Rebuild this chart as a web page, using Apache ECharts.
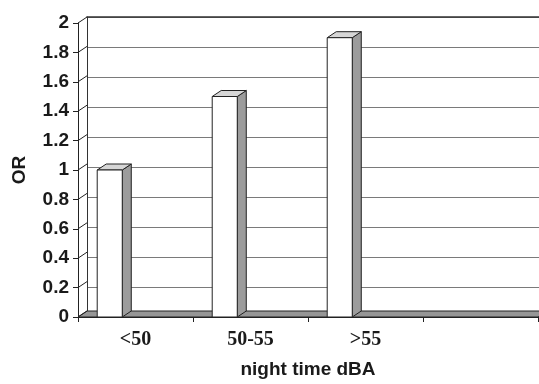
<!DOCTYPE html>
<html>
<head>
<meta charset="utf-8">
<script src="https://cdn.jsdelivr.net/npm/echarts@6/dist/echarts.min.js"></script>
<style>
html,body{margin:0;padding:0;background:#fff;}
#chart{width:539px;height:384px;}
</style>
</head>
<body>
<div id="chart"></div>
<script>
// ---- data ----
const categories = ['<50', '50-55', '>55', ''];
const orValues = [1.0, 1.5, 1.9, null];
const yTicks = [0, 0.2, 0.4, 0.6, 0.8, 1.0, 1.2, 1.4, 1.6, 1.8, 2.0];
const yMin = 0, yMax = 2, yStep = 0.2;
const xAxisName = 'night time dBA';
const yAxisName = 'OR';

// ---- 3D look ----
const DX = 9, DY = -6;
const LINE = '#222';

const chart = echarts.init(document.getElementById('chart'), null, {renderer: 'canvas'});

const barData = [];
categories.forEach((c, i) => { if (orValues[i] != null) barData.push([i, orValues[i]]); });

const option = {
  backgroundColor: '#fff',
  animation: false,
  grid: [
    {left: 87, top: 17, width: 460, height: 300},   // back wall
    {left: 78, top: 23, width: 460, height: 300}    // front plane
  ],
  xAxis: [
    {
      gridIndex: 0, type: 'category', data: categories, position: 'top',
      axisLine: {show: true, onZero: false, lineStyle: {color: '#333', width: 1.5}},
      axisTick: {show: false}, axisLabel: {show: false}, splitLine: {show: false}
    },
    {
      gridIndex: 1, type: 'category', data: categories,
      axisLine: {show: true, lineStyle: {color: LINE, width: 1}},
      axisTick: {show: true, inside: false, length: 5, lineStyle: {color: LINE}},
      axisLabel: {
        show: true, margin: 13, color: '#1a1a1a',
        fontFamily: '"Liberation Serif", "Times New Roman", serif',
        fontWeight: 'bold', fontSize: 20
      },
      name: xAxisName, nameLocation: 'middle', nameGap: 43,
      nameTextStyle: {
        color: '#1a1a1a', fontFamily: '"Liberation Sans", Arial, sans-serif',
        fontWeight: 'bold', fontSize: 19
      }
    }
  ],
  yAxis: [
    {
      gridIndex: 0, type: 'value', min: yMin, max: yMax, interval: yStep,
      axisLine: {show: true, onZero: false, lineStyle: {color: '#333', width: 1}},
      axisTick: {show: false}, axisLabel: {show: false},
      splitLine: {show: true, lineStyle: {color: '#7a7a7a', width: 1}}
    },
    {
      gridIndex: 1, type: 'value', min: yMin, max: yMax, interval: yStep,
      axisLine: {show: true, onZero: false, lineStyle: {color: LINE, width: 1}},
      axisTick: {show: true, inside: false, length: 5, lineStyle: {color: LINE}},
      axisLabel: {
        show: true, margin: 9, color: '#1a1a1a',
        fontFamily: '"Liberation Sans", Arial, sans-serif',
        fontWeight: 'bold', fontSize: 19,
        formatter: v => String(+v.toFixed(1))
      },
      splitLine: {show: false},
      name: yAxisName, nameLocation: 'middle', nameGap: 49, nameRotate: 90,
      nameTextStyle: {
        color: '#1a1a1a', fontFamily: '"Liberation Sans", Arial, sans-serif',
        fontWeight: 'bold', fontSize: 19
      }
    }
  ],
  series: [
    {
      // floor
      type: 'custom', xAxisIndex: 1, yAxisIndex: 1, z: 1, silent: true,
      data: [[0, yMin]],
      renderItem: function (params, api) {
        const cs = params.coordSys;
        const base = api.coord([0, yMin])[1];
        return {
          type: 'polygon',
          shape: {points: [
            [cs.x, base], [cs.x + cs.width, base],
            [cs.x + cs.width + DX, base + DY], [cs.x + DX, base + DY]
          ]},
          style: {fill: '#969696', stroke: LINE, lineWidth: 1}
        };
      }
    },
    {
      // left wall grid lines
      type: 'custom', xAxisIndex: 1, yAxisIndex: 1, z: 2, silent: true,
      data: yTicks.map(v => [0, v]),
      renderItem: function (params, api) {
        const cs = params.coordSys;
        const y = api.coord([0, api.value(1)])[1];
        return {
          type: 'line',
          shape: {x1: cs.x, y1: y, x2: cs.x + DX, y2: y + DY},
          style: {stroke: LINE, lineWidth: 1}
        };
      }
    },
    {
      // 3D bars
      type: 'custom', xAxisIndex: 1, yAxisIndex: 1, z: 3, silent: true,
      data: barData,
      renderItem: function (params, api) {
        const i = api.value(0), v = api.value(1);
        const b = api.coord([i, yMin]);
        const t = api.coord([i, v]);
        const bw = api.size([1, 0])[0];
        const left = b[0] - 0.333 * bw;
        const w = 0.218 * bw;
        const top = t[1], base = b[1];
        return {
          type: 'group',
          children: [
            {
              type: 'polygon',
              shape: {points: [[left + w, top], [left + w + DX, top + DY], [left + w + DX, base + DY], [left + w, base]]},
              style: {fill: '#9c9c9c', stroke: LINE, lineWidth: 1}
            },
            {
              type: 'polygon',
              shape: {points: [[left, top], [left + w, top], [left + w + DX, top + DY], [left + DX, top + DY]]},
              style: {fill: '#d6d6d6', stroke: LINE, lineWidth: 1}
            },
            {
              type: 'rect',
              shape: {x: left, y: top, width: w, height: base - top},
              style: {fill: '#ffffff', stroke: LINE, lineWidth: 1}
            }
          ]
        };
      }
    }
  ]
};
chart.setOption(option);
</script>
</body>
</html>
